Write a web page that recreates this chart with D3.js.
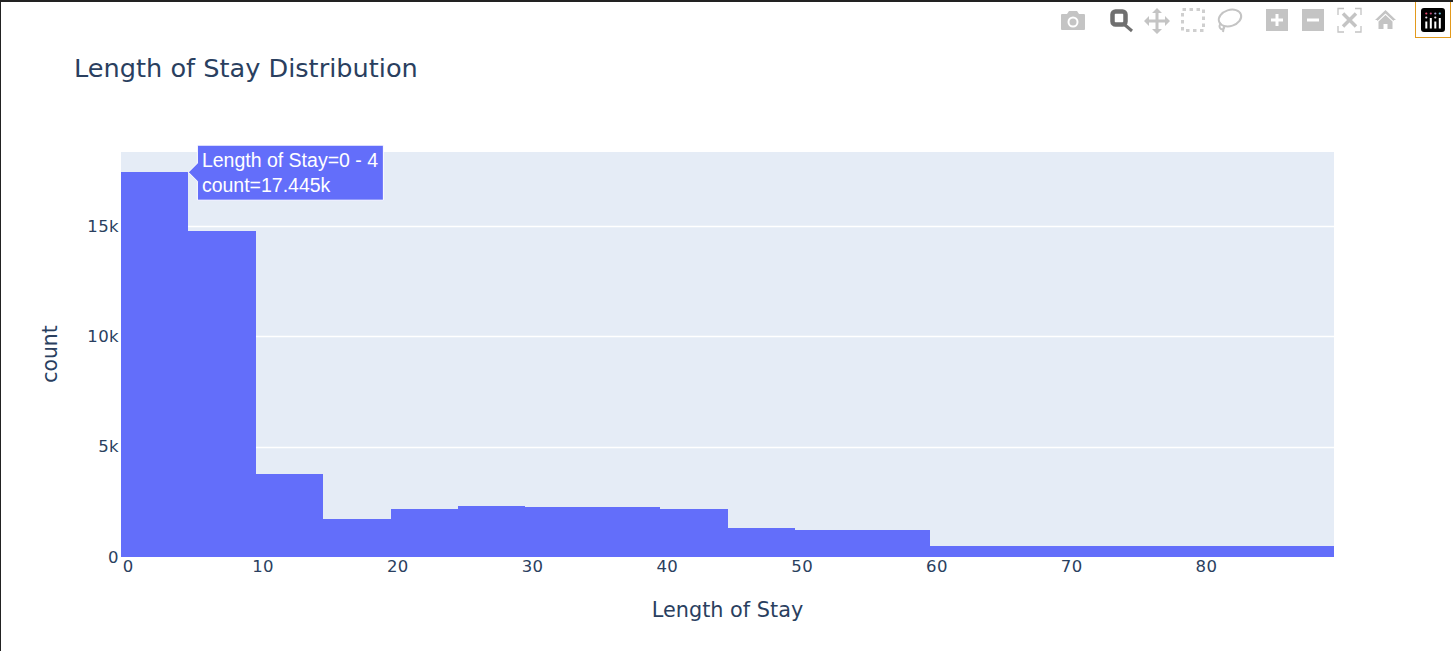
<!DOCTYPE html>
<html>
<head>
<meta charset="utf-8">
<script src="https://cdn.jsdelivr.net/npm/d3@7"></script>
<style>
  html, body { margin: 0; padding: 0; background: #fff; overflow: hidden; }
  text { font-family: "DejaVu Sans", Verdana, sans-serif; }
</style>
</head>
<body>
<svg id="chart"></svg>
<script>
// one bar per 5 day bin, first edge sits at -0.5
const binStarts = [-0.5, 4.5, 9.5, 14.5, 19.5, 24.5, 29.5, 34.5, 39.5, 44.5, 49.5, 54.5, 59.5, 64.5, 69.5, 74.5, 79.5, 84.5];
const binCounts = [17445, 14770, 3760, 1720, 2170, 2310, 2270, 2270, 2170, 1310, 1220, 1220, 490, 490, 490, 490, 490, 490];
const binWidth = 5;
const xTicks = [0, 10, 20, 30, 40, 50, 60, 70, 80];
const yTicks = [0, 5000, 10000, 15000];
const yTickLabels = ["0", "5k", "10k", "15k"];
const titleText = "Length of Stay Distribution";
const xTitle = "Length of Stay";
const yTitle = "count";
const hoverLines = ["Length of Stay=0 - 4", "count=17.445k"];

const config = {
  width: 1453,
  height: 651,
  margin: { top: 152, right: 119, bottom: 94, left: 121 },
  ink: "#2a3f5f",
  bar: "#636efa",
  plotBg: "#e5ecf6",
  icon: "#c4c4c4"
};

const svg = d3.select("#chart")
  .attr("width", config.width)
  .attr("height", config.height);

svg.append("rect").attr("width", config.width).attr("height", config.height).attr("fill", "#fff");

const x = d3.scaleLinear()
  .domain([-0.5, 89.5])
  .range([config.margin.left, config.width - config.margin.right]);
const y = d3.scaleLinear()
  .domain([0, 18360])
  .range([config.height - config.margin.bottom, config.margin.top]);

svg.append("rect")
  .attr("x", x.range()[0])
  .attr("y", y.range()[1])
  .attr("width", x.range()[1] - x.range()[0])
  .attr("height", y.range()[0] - y.range()[1])
  .attr("fill", config.plotBg);

// gridlines, zero line stays hidden behind the bars
svg.append("g")
  .selectAll("line")
  .data(yTicks.slice(1))
  .enter()
  .append("line")
  .attr("x1", x.range()[0])
  .attr("x2", x.range()[1])
  .attr("y1", d => Math.round(y(d)) + 0.5)
  .attr("y2", d => Math.round(y(d)) + 0.5)
  .attr("stroke", "#fff")
  .attr("stroke-width", 1.3);

// bars, snapped to whole pixels so neighbours leave no seam
svg.append("g")
  .attr("shape-rendering", "crispEdges")
  .selectAll("rect")
  .data(binStarts)
  .enter()
  .append("rect")
  .attr("x", d => Math.round(x(d)))
  .attr("width", d => Math.round(x(d + binWidth)) - Math.round(x(d)))
  .attr("y", (d, i) => Math.round(y(binCounts[i])))
  .attr("height", (d, i) => Math.round(y(0)) - Math.round(y(binCounts[i])))
  .attr("fill", config.bar);

// axes
const xAxis = svg.append("g")
  .attr("transform", `translate(0,${y(0)})`)
  .call(d3.axisBottom(x).tickValues(xTicks).tickSize(0).tickPadding(3));
const yAxis = svg.append("g")
  .attr("transform", `translate(${x.range()[0]},0)`)
  .call(d3.axisLeft(y).tickValues(yTicks).tickSize(0).tickPadding(2)
    .tickFormat((d, i) => yTickLabels[i]));
[xAxis, yAxis].forEach(axis => {
  axis.select(".domain").remove();
  axis.selectAll("text")
    .attr("fill", config.ink)
    .style("font-size", "16.5px")
    .style("letter-spacing", "0.4px")
    .style("font-family", '"DejaVu Sans", Verdana, sans-serif');
});

// titles
svg.append("text")
  .attr("x", 74)
  .attr("y", 77)
  .attr("fill", config.ink)
  .style("font-size", "25.6px")
  .text(titleText);
svg.append("text")
  .attr("x", (x.range()[0] + x.range()[1]) / 2)
  .attr("y", 617)
  .attr("text-anchor", "middle")
  .attr("fill", config.ink)
  .style("font-size", "20.8px")
  .text(xTitle);
svg.append("text")
  .attr("transform", "translate(57,354) rotate(-90)")
  .attr("text-anchor", "middle")
  .attr("fill", config.ink)
  .style("font-size", "20.4px")
  .text(yTitle);

// hover label pinned on the first bar
const hover = svg.append("g");
const hoverX = x(binStarts[0] + binWidth);
const hoverY = y(binCounts[0]);
hover.append("path")
  .attr("d", `M${hoverX},${hoverY} l9,-9 v-18 h186 v55 h-186 v-19 z`)
  .attr("fill", config.bar)
  .attr("stroke", "#fff")
  .attr("stroke-width", 1);
hover.selectAll("text")
  .data(hoverLines)
  .enter()
  .append("text")
  .attr("x", hoverX + 13.5)
  .attr("y", (d, i) => hoverY - 5 + i * 25)
  .attr("fill", "#fff")
  .style("font-family", '"Liberation Sans", Arial, sans-serif')
  .style("font-size", "19.5px")
  .text(d => d);

// modebar icons, drawn by hand
const bar = svg.append("g").attr("fill", config.icon);

// camera
bar.append("path").attr("d", "M1062,14 h5 l2,-3 h8 l2,3 h5 q1,0 1,1 v14 q0,1 -1,1 h-22 q-1,0 -1,-1 v-14 q0,-1 1,-1 z");
bar.append("circle").attr("cx", 1073).attr("cy", 22).attr("r", 5.5).attr("fill", "#fff");
bar.append("circle").attr("cx", 1073).attr("cy", 22).attr("r", 3.5);

// zoom, the active one
const zoomIcon = svg.append("g").attr("stroke", "#6f6f6f").attr("fill", "none");
zoomIcon.append("rect").attr("x", 1112.5).attr("y", 11.5).attr("width", 13).attr("height", 13).attr("rx", 3).attr("stroke-width", 4.5);
zoomIcon.append("line").attr("x1", 1125).attr("y1", 25).attr("x2", 1132).attr("y2", 31).attr("stroke-width", 3);

// pan
bar.append("path").attr("d", "M1157,8 l5,5 h-3.5 v6.5 h6.5 v-3.5 l5,5 l-5,5 v-3.5 h-6.5 v6.5 h3.5 l-5,5 l-5,-5 h3.5 v-6.5 h-6.5 v3.5 l-5,-5 l5,-5 v3.5 h6.5 v-6.5 h-3.5 z");

// box select
svg.append("rect")
  .attr("x", 1182.5).attr("y", 9.5).attr("width", 21).attr("height", 21)
  .attr("fill", "none").attr("stroke", "#cfcfcf").attr("stroke-width", 3).attr("stroke-dasharray", "3.5 3.5");

// lasso
svg.append("ellipse")
  .attr("cx", 1230).attr("cy", 18).attr("rx", 11.5).attr("ry", 8)
  .attr("transform", "rotate(-18 1230 18)")
  .attr("fill", "none").attr("stroke", config.icon).attr("stroke-width", 2);
svg.append("path")
  .attr("d", "M1221,23 q-3,4 0,6 q4,1 3,-3 l-1,6")
  .attr("fill", "none").attr("stroke", config.icon).attr("stroke-width", 2);

// zoom in / out
bar.append("path").attr("fill-rule", "evenodd").attr("d", "M1266,9 h22 v22 h-22 z M1275.5,14 v4.5 h-4.5 v3 h4.5 v4.5 h3 v-4.5 h4.5 v-3 h-4.5 v-4.5 z");
bar.append("path").attr("fill-rule", "evenodd").attr("d", "M1302,9 h22 v22 h-22 z M1307,18.5 v3 h12 v-3 z");

// autoscale
svg.append("path")
  .attr("d", "M1338,15 v-6.5 h6 M1355,8.5 h6 v6.5 M1361,26 v6 h-6 M1344,32 h-6 v-6")
  .attr("fill", "none").attr("stroke", config.icon).attr("stroke-width", 1.3);
svg.append("path")
  .attr("d", "M1343,13.5 l13,13 M1356,13.5 l-13,13")
  .attr("fill", "none").attr("stroke", config.icon).attr("stroke-width", 3.5);

// home
bar.append("path").attr("d", "M1385.5,10 l10.5,10 h-2 l-0.5,1 l-8,-7.5 l-8,7.5 l-0.5,-1 h-2 z");
bar.append("path").attr("d", "M1385.5,15 l7,6.5 v7.5 h-5 v-5 h-4 v5 h-5 v-7.5 z");

// plotly logo box
svg.append("rect").attr("x", 1415.5).attr("y", -1).attr("width", 35).attr("height", 38.5).attr("fill", "#fff").attr("stroke", "#e39a1c");
svg.append("rect").attr("x", 1421).attr("y", 8).attr("width", 24).attr("height", 24).attr("rx", 3).attr("fill", "#000");
const logoCols = [1426.3, 1430.8, 1435.3, 1439.8];
const logoDots = ["#ef476f", "#c9507f", "#a5a0d0", "#6ac4dc"];
const logoTops = [21.5, 18, 21.5, 18];
logoCols.forEach((cx, i) => {
  svg.append("circle").attr("cx", cx).attr("cy", 13.5).attr("r", 1.1).attr("fill", logoDots[i]);
  if (i % 2 === 0) svg.append("circle").attr("cx", cx).attr("cy", 17.5).attr("r", 1.1).attr("fill", "#e8e0e8");
  svg.append("rect").attr("x", cx - 1).attr("y", logoTops[i]).attr("width", 2).attr("height", 28.5 - logoTops[i]).attr("fill", "#fff");
});

// window edge from the screenshot, on top of the logo box
svg.append("rect").attr("width", config.width).attr("height", 2).attr("fill", "#222");
svg.append("rect").attr("width", 1).attr("height", config.height).attr("fill", "#222");
</script>
</body>
</html>
